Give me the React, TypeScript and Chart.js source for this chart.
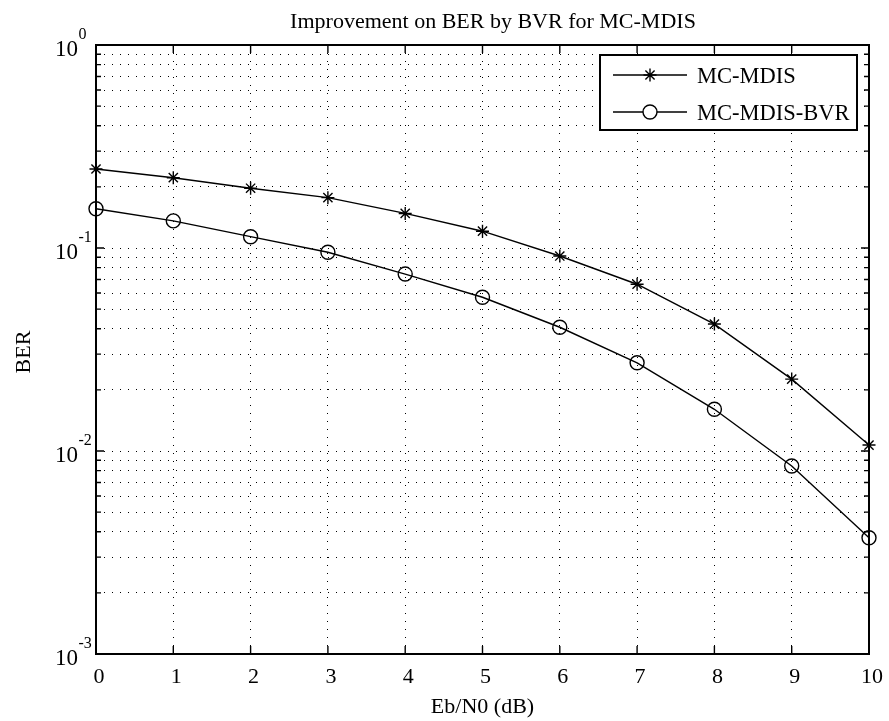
import React, { useEffect, useRef } from "react";
import { Chart, registerables } from "chart.js";

Chart.register(...registerables);

// ---- data ----
const ebn0 = [0, 1, 2, 3, 4, 5, 6, 7, 8, 9, 10];
const berMDIS = [0.245, 0.222, 0.197, 0.177, 0.148, 0.121, 0.0913, 0.0663, 0.0422, 0.0226, 0.0107];
const berBVR = [0.156, 0.136, 0.1137, 0.0953, 0.0744, 0.0572, 0.0407, 0.0272, 0.01605, 0.00844, 0.00374];
const seriesNames = ["MC-MDIS", "MC-MDIS-BVR"];
const xTickLabels = ["0", "1", "2", "3", "4", "5", "6", "7", "8", "9", "10"];
const yTickExponents = [-3, -2, -1, 0];
const titleText = "Improvement on BER by BVR for MC-MDIS";
const xTitle = "Eb/N0 (dB)";
const yTitle = "BER";

const FONT = "'Liberation Serif', 'Times New Roman', serif";

const yGridValues: number[] = [];
for (let e = -3; e < 0; e++) {
  for (let m = 1; m <= 9; m++) yGridValues.push(m * Math.pow(10, e));
}
yGridValues.push(1);

const overlay = {
  id: "overlay",
  afterDraw(chart: any) {
    const ctx = chart.ctx as CanvasRenderingContext2D;
    const { left, right, top, bottom } = chart.chartArea;
    const xs = chart.scales.x;
    const ys = chart.scales.y;
    ctx.save();
    ctx.strokeStyle = "#000";
    ctx.fillStyle = "#000";
    ctx.lineWidth = 1.4;
    // inward ticks
    ctx.beginPath();
    ebn0.forEach((v) => {
      const px = xs.getPixelForValue(v);
      ctx.moveTo(px, bottom);
      ctx.lineTo(px, bottom - 8);
      ctx.moveTo(px, top);
      ctx.lineTo(px, top + 8);
    });
    yGridValues.forEach((v) => {
      const py = ys.getPixelForValue(v);
      const major = Math.abs(Math.log10(v) - Math.round(Math.log10(v))) < 1e-9;
      const len = major ? 8 : 5;
      ctx.moveTo(left, py);
      ctx.lineTo(left + len, py);
      ctx.moveTo(right, py);
      ctx.lineTo(right - len, py);
    });
    ctx.stroke();
    // frame
    ctx.lineWidth = 2;
    ctx.strokeRect(left, top, right - left, bottom - top);

    // x tick labels
    ctx.font = `22px ${FONT}`;
    ctx.textAlign = "center";
    ctx.textBaseline = "alphabetic";
    ebn0.forEach((v, i) => {
      const px = xs.getPixelForValue(v);
      ctx.fillText(xTickLabels[i], px + 3, bottom + 29);
    });
    // y tick labels
    yTickExponents.forEach((e) => {
      const py = ys.getPixelForValue(Math.pow(10, e));
      ctx.font = `23px ${FONT}`;
      ctx.textAlign = "right";
      ctx.fillText("10", 78, py + 11);
      ctx.font = `16px ${FONT}`;
      ctx.textAlign = "left";
      ctx.fillText(String(e), 78.5, py - 6);
    });

    // titles
    ctx.font = `22px ${FONT}`;
    ctx.textAlign = "center";
    ctx.fillText(titleText, 493, 28);
    ctx.fillText(xTitle, (left + right) / 2, 713);
    ctx.save();
    ctx.translate(30, 352);
    ctx.rotate(-Math.PI / 2);
    ctx.fillText(yTitle, 0, 0);
    ctx.restore();

    // legend
    const lx0 = 600, lx1 = 857, ly0 = 55, ly1 = 130;
    ctx.fillStyle = "#fff";
    ctx.fillRect(lx0, ly0, lx1 - lx0, ly1 - ly0);
    ctx.fillStyle = "#000";
    ctx.lineWidth = 2;
    ctx.strokeRect(lx0, ly0, lx1 - lx0, ly1 - ly0);
    const rows = [75, 112];
    rows.forEach((ry, i) => {
      ctx.lineWidth = 1.4;
      ctx.beginPath();
      ctx.moveTo(613, ry);
      ctx.lineTo(687, ry);
      ctx.stroke();
      const cx = 650;
      ctx.beginPath();
      if (i === 0) {
        const r = 6.5;
        ctx.moveTo(cx - r, ry); ctx.lineTo(cx + r, ry);
        ctx.moveTo(cx, ry - r); ctx.lineTo(cx, ry + r);
        const d = r * Math.SQRT1_2;
        ctx.moveTo(cx - d, ry - d); ctx.lineTo(cx + d, ry + d);
        ctx.moveTo(cx - d, ry + d); ctx.lineTo(cx + d, ry - d);
        ctx.stroke();
      } else {
        ctx.fillStyle = "#fff";
        ctx.arc(cx, ry, 7, 0, Math.PI * 2);
        ctx.fill();
        ctx.stroke();
        ctx.fillStyle = "#000";
      }
      ctx.font = `22.5px ${FONT}`;
      ctx.textAlign = "left";
      ctx.textBaseline = "alphabetic";
      ctx.fillText(seriesNames[i], 697, ry + 8);
    });
    ctx.restore();
  },
};

export default function App() {
  const ref = useRef<HTMLCanvasElement | null>(null);
  useEffect(() => {
    document.body.style.margin = "0";
    if (!ref.current) return;
    const chart = new Chart(ref.current, {
      type: "line",
      data: {
        datasets: [
          {
            label: seriesNames[0],
            data: ebn0.map((x, i) => ({ x, y: berMDIS[i] })),
            borderColor: "#000",
            borderWidth: 1.4,
            pointStyle: "star",
            pointRadius: 6.5,
            pointBorderWidth: 1.4,
            pointBorderColor: "#000",
            pointBackgroundColor: "rgba(0,0,0,0)",
            backgroundColor: "rgba(0,0,0,0)",
            fill: false,
            tension: 0,
            clip: false as any,
          },
          {
            label: seriesNames[1],
            data: ebn0.map((x, i) => ({ x, y: berBVR[i] })),
            borderColor: "#000",
            borderWidth: 1.4,
            pointStyle: "circle",
            pointRadius: 7,
            pointBorderWidth: 1.4,
            pointBorderColor: "#000",
            pointBackgroundColor: "rgba(0,0,0,0)",
            backgroundColor: "rgba(0,0,0,0)",
            fill: false,
            tension: 0,
            clip: false as any,
          },
        ],
      },
      options: {
        responsive: false,
        animation: false,
        devicePixelRatio: 1,
        layout: { padding: { left: 96, top: 45, right: 20, bottom: 67 } },
        plugins: {
          legend: { display: false },
          title: { display: false },
          tooltip: { enabled: false },
        },
        scales: {
          x: {
            type: "linear",
            min: 0,
            max: 10,
            afterBuildTicks: (scale: any) => {
              scale.ticks = ebn0.map((v) => ({ value: v }));
            },
            ticks: { display: false, autoSkip: false },
            grid: { color: "#000", lineWidth: 1, drawTicks: false },
            border: { display: false, dash: [1, 7] },
          },
          y: {
            type: "logarithmic",
            min: 0.001,
            max: 1,
            afterBuildTicks: (scale: any) => {
              scale.ticks = yGridValues.map((v) => ({ value: v }));
            },
            ticks: { display: false, autoSkip: false },
            grid: { color: "#000", lineWidth: 1, drawTicks: false },
            border: { display: false, dash: [1, 7] },
          },
        },
      },
      plugins: [overlay],
    } as any);
    return () => chart.destroy();
  }, []);
  return <canvas ref={ref} width={889} height={721} style={{ display: "block" }} />;
}
